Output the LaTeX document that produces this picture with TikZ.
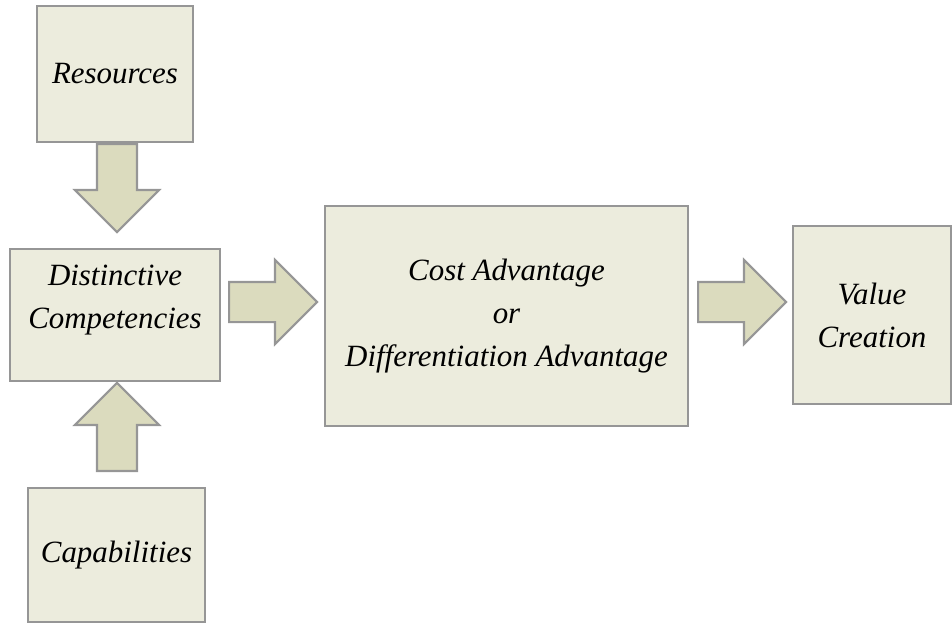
\documentclass[tikz,border=0pt]{standalone}
\usepackage{fontspec}
\setmainfont{Liberation Serif}
\usetikzlibrary{shapes.arrows}

\definecolor{boxfill}{RGB}{236,236,221}
\definecolor{arrfill}{RGB}{219,219,190}
\definecolor{edge}{RGB}{150,150,150}

\tikzset{
  box/.style={draw=edge, line width=1pt, fill=boxfill, inner sep=0pt,
    align=center, font=\fontsize{17.6}{24.5}\selectfont\itshape},
  blockarrow/.style={single arrow, draw=edge, line width=1.2pt, fill=arrfill,
    inner xsep=0pt, inner ysep=0.38cm, text width=0pt, text height=0pt, text depth=0pt,
    minimum height=1.76cm, minimum width=1.66cm, anchor=tail,
    single arrow head extend=0.44cm, single arrow tip angle=90}
}

\begin{document}
\begin{tikzpicture}[x=0.02cm, y=-0.02cm]

\useasboundingbox (0,0) rectangle (952,625);

% boxes
\node[box, minimum width=3.12cm, minimum height=2.72cm] (res) at (115,74) {Resources};
\node[box, minimum width=4.2cm, minimum height=2.64cm,
  label={[box, draw=none, fill=none, yshift=0.3cm]center:Distinctive\\Competencies}] (dist) at (115,315) {};
\node[box, minimum width=3.54cm, minimum height=2.68cm] (cap) at (116.5,555) {Capabilities};
\node[box, minimum width=7.26cm, minimum height=4.4cm] (cost) at (506.5,316)
  {Cost Advantage\\or\\Differentiation Advantage};
\node[box, minimum width=3.16cm, minimum height=3.56cm] (val) at (872,315) {Value\\Creation};

% arrows
\node[blockarrow, rotate=-90] (arrdown) at (117,143) {};
\node[blockarrow, rotate=90] (arrup) at (117,472) {};
\node[blockarrow] (arrcost) at (228,302) {};
\node[blockarrow] (arrval) at (697,302) {};

\end{tikzpicture}
\end{document}
